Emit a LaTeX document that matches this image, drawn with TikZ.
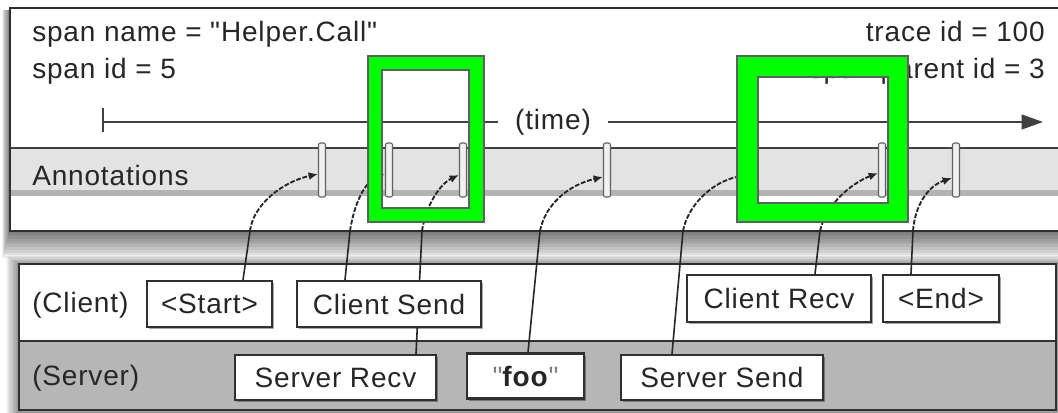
\documentclass[tikz,border=0pt]{standalone}
\usepackage{fontspec}
\setmainfont{Liberation Sans}[LetterSpace=3, Ligatures=TeXOff]
\usetikzlibrary{arrows.meta,shadows}
\newcommand{\pxu}{0.75pt}
\newcommand{\sq}{\char34\relax}
\definecolor{ink}{HTML}{262626}
\definecolor{frame}{HTML}{303030}
\definecolor{bandc}{HTML}{E3E3E3}
\definecolor{stripc}{HTML}{B3B3B3}
\definecolor{serverc}{HTML}{B6B6B6}
\definecolor{hlgreen}{HTML}{00FF00}
\definecolor{hlgray}{HTML}{5F5F5F}
\definecolor{axisc}{HTML}{404040}
\pgfdeclarelayer{back}
\pgfdeclarelayer{mid}
\pgfdeclarelayer{front}
\pgfsetlayers{back,mid,main,front}
\begin{document}
\begin{tikzpicture}[x=0.75pt,y=-0.75pt,
  font=\fontsize{21}{25}\selectfont,
  lbl/.style={inner sep=0pt, text=ink},
  evbox/.style={draw=frame, line width=1.6pt, fill=white, inner sep=0pt, text=ink,
    drop shadow={shadow xshift=1.6pt, shadow yshift=-1.6pt, opacity=0.35, fill=black}},
  tickmark/.style={rectangle, rounded corners=1.5pt, draw=hlgray, fill=white!94!black,
    line width=0.8pt, minimum width=7*\pxu, minimum height=54*\pxu, inner sep=0pt},
  conn/.style={draw=ink, line width=1.2pt},
  conncurve/.style={draw=ink, line width=1.4pt, dash pattern=on 3.6pt off 1.3pt,
    -{Latex[length=7pt,width=6pt]}},
  axis/.style={draw=axisc, line width=1.5pt}
]
\useasboundingbox (0,0) rectangle (1058,413);

% ---------- back layer: big boxes with shadows ----------
\begin{pgfonlayer}{back}
\fill[white] (0,0) rectangle (1058,413);
\foreach \k in {1,...,10} {
  \fill[black,opacity=0.065] (10-0.8*\k,10) rectangle (1080,231+2.7*\k);
}
\foreach \k in {1,...,8} {
  \fill[black,opacity=0.06] (19-1.6*\k,264-1.0*\k) rectangle (1075,420);
}
% top box
\fill[white] (10,8) rectangle (1080,231);
\fill[bandc] (10,148) rectangle (1080,190);
\fill[stripc] (10,190) rectangle (1080,196);
\draw[draw=axisc, line width=1.3pt] (10,148) -- (1080,148);
\draw[frame, line width=1.7pt] (1080,8) -- (10,8) -- (10,231) -- (1080,231);
% bottom box
\fill[white] (19,264) rectangle (1056,341);
\fill[serverc] (19,341) rectangle (1056,410);
\draw[frame, line width=1.5pt] (19,341) -- (1056,341);
\draw[frame, line width=1.7pt] (19,264) rectangle (1056,410);
\end{pgfonlayer}

% ---------- header texts ----------
\node[lbl, anchor=base west] (sname) at (32,42) {span name = \sq Helper.Call\sq};
\node[lbl, anchor=base west] (sid) at (32,79) {span id = 5};
\node[lbl, anchor=base east] (tid) at (1045,42) {trace id = 100};
\node[lbl, anchor=base east] (pid) at (1045,79) {span parent id = 3};
\node[lbl, anchor=base west] (ann) at (32,186) {Annotations};

% ---------- time axis ----------
\node[text=ink, inner ysep=0pt, inner xsep=12.5pt] (time) at (553,122) {(time)};
\coordinate (t0) at (103,122);
\coordinate (t1) at (1043,122);
\draw[axis, line width=2.2pt] (103,108) -- (103,132);
\draw[axis] (t0) -- (time.west);
\draw[axis, -{Triangle[length=16pt,width=11pt]}] (time.east) -- (t1);

% ---------- annotation markers ----------
\node[tickmark] (m1) at (322,170) {};
\node[tickmark] (m2) at (389,170) {};
\node[tickmark] (m3) at (463,170) {};
\node[tickmark] (m4) at (607,170) {};
\node[tickmark] (m5) at (750,170) {};
\node[tickmark] (m6) at (882,170) {};
\node[tickmark] (m7) at (956,170) {};

% ---------- row labels ----------
\node[lbl, anchor=base west] (client) at (32,313) {(Client)};
\node[lbl, anchor=base west] (server) at (32,386) {(Server)};

% ---------- event boxes ----------
\node[evbox, minimum width=125*\pxu, minimum height=46*\pxu] (start) at (209.5,304) {<Start>};
\node[evbox, minimum width=184*\pxu, minimum height=46*\pxu] (csend) at (389,304) {Client Send};
\node[evbox, minimum width=201*\pxu, minimum height=45*\pxu] (srecv) at (335.5,377.5) {Server Recv};
\node[evbox, minimum width=117*\pxu, minimum height=45*\pxu] (foo) at (525.5,376) {{\color{gray}\sq}\textbf{foo}{\color{gray}\sq}};
\node[evbox, minimum width=202*\pxu, minimum height=45*\pxu] (ssend) at (722,377.5) {Server Send};
\node[evbox, minimum width=184*\pxu, minimum height=47*\pxu] (crecv) at (779,298.5) {Client Recv};
\node[evbox, minimum width=116*\pxu, minimum height=47*\pxu] (endb) at (941,298.5) {<End>};

% ---------- connectors ----------
\begin{pgfonlayer}{mid}
\coordinate (c1) at (250,231);
\coordinate (c2) at (350,231);
\coordinate (c3) at (422,231);
\coordinate (c4) at (540,231);
\coordinate (c5) at (683,231);
\coordinate (c6) at (820,231);
\coordinate (c7) at (913,231);
\draw[conn] ([xshift=33.5*\pxu]start.north) -- (c1);
\draw[conncurve] (c1) .. controls (253,205) and (282,182) .. ([yshift=-4*\pxu]m1.west);
\draw[conn] ([xshift=-44*\pxu]csend.north) -- (c2);
\draw[conncurve] (c2) .. controls (354,205) and (364,182) .. ([yshift=-4*\pxu]m2.west);
\draw[conn] ([xshift=80.5*\pxu]srecv.north) -- (c3);
\draw[conncurve] (c3) .. controls (426,205) and (440,184) .. ([yshift=-5*\pxu]m3.west);
\draw[conn] ([xshift=2.5*\pxu]foo.north) -- (c4);
\draw[conncurve] (c4) .. controls (545,205) and (568,185) .. ([yshift=-7*\pxu]m4.west);
\draw[conn] ([xshift=-50*\pxu]ssend.north) -- (c5);
\draw[conncurve] (c5) .. controls (688,205) and (712,182) .. ([yshift=-5*\pxu]m5.west);
\draw[conn] ([xshift=36*\pxu]crecv.north) -- (c6);
\draw[conncurve] (c6) .. controls (826,205) and (850,184) .. ([yshift=-3*\pxu]m6.west);
\draw[conn] ([xshift=-30*\pxu]endb.north) -- (c7);
\draw[conncurve] (c7) .. controls (915,205) and (928,186) .. ([yshift=-8*\pxu]m7.west);
\end{pgfonlayer}

% ---------- green highlight frames ----------
\begin{pgfonlayer}{front}
\fill[hlgreen, even odd rule] (368,56) rectangle (484,222) (382,70) rectangle (469,208);
\draw[hlgray, line width=2.2pt] (368,56) rectangle (484,222);
\draw[hlgray, line width=2.2pt] (382,70) rectangle (469,208);
\fill[hlgreen, even odd rule] (737,56) rectangle (908,222) (758,77) rectangle (888,203);
\draw[hlgray, line width=2.2pt] (737,56) rectangle (908,222);
\draw[hlgray, line width=2.2pt] (758,77) rectangle (888,203);
\end{pgfonlayer}
\end{tikzpicture}
\end{document}
